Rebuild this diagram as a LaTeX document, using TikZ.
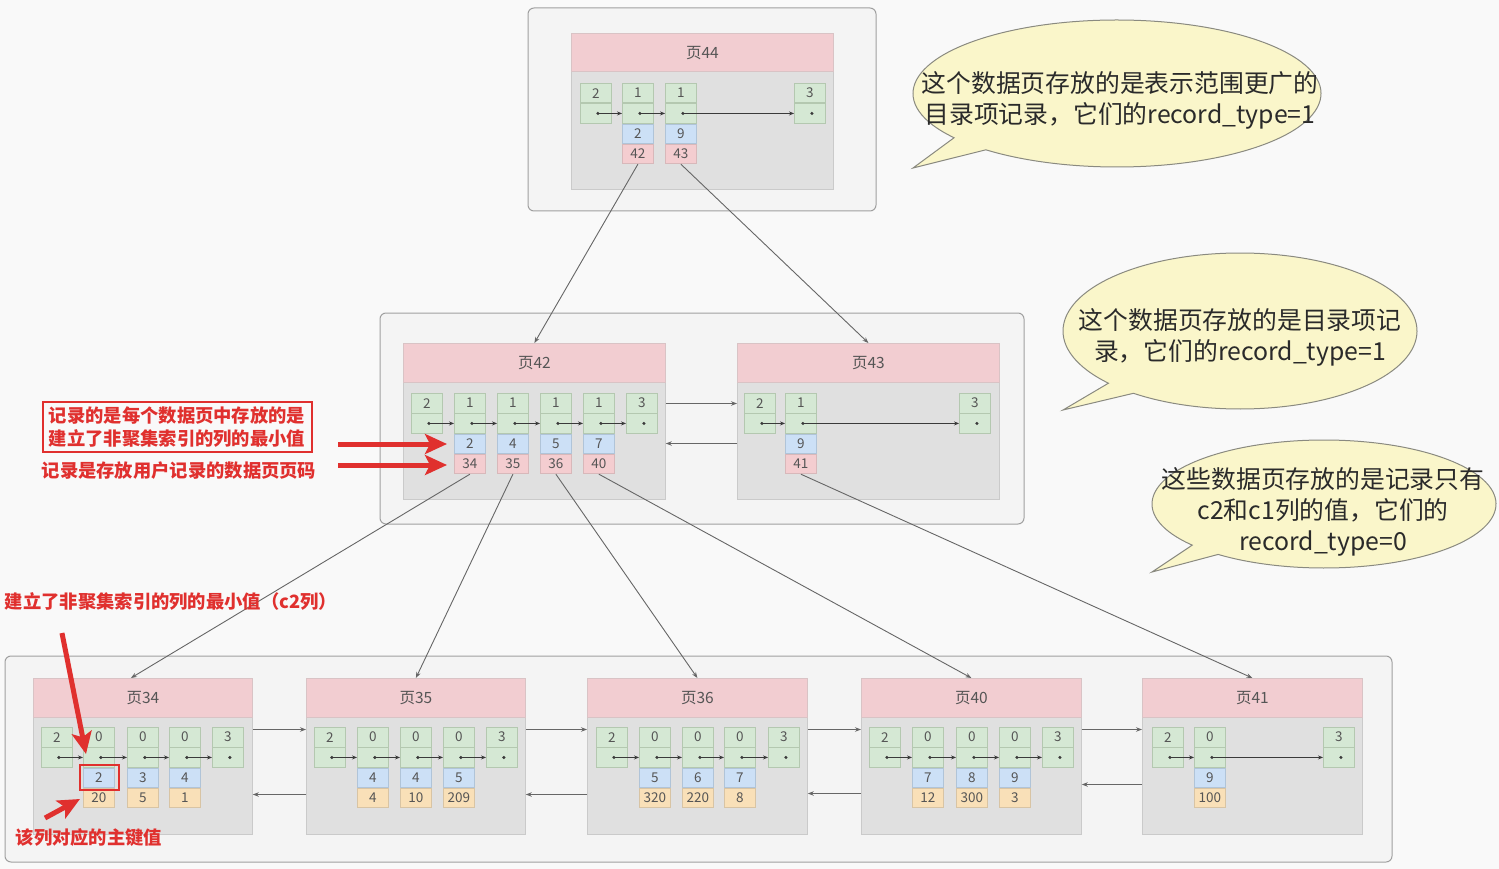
\documentclass[tikz,border=0pt]{standalone}
\usepackage{fontspec}
\setmainfont{Noto Sans CJK SC}
\usetikzlibrary{arrows.meta}
\definecolor{bg}{HTML}{F9F9F9}
\definecolor{grpfill}{HTML}{F4F4F4}
\definecolor{grpdraw}{HTML}{A0A0A0}
\definecolor{hdrfill}{HTML}{F2CDD1}
\definecolor{hdrdraw}{HTML}{D9C3C5}
\definecolor{bodyfill}{HTML}{E0E0E0}
\definecolor{bodydraw}{HTML}{CACACA}
\definecolor{gfill}{HTML}{D5E8D4}
\definecolor{gdraw}{HTML}{B4C8B0}
\definecolor{bfill}{HTML}{CCE0F6}
\definecolor{bdraw}{HTML}{B0C4D8}
\definecolor{pfill}{HTML}{F4CDD0}
\definecolor{pdraw}{HTML}{D8B8BA}
\definecolor{ofill}{HTML}{F9E0B8}
\definecolor{odraw}{HTML}{D8C4A4}
\definecolor{numc}{HTML}{555555}
\definecolor{linec}{HTML}{666666}
\definecolor{ptrc}{HTML}{3A3A3A}
\definecolor{redc}{HTML}{E0302E}
\definecolor{bubfill}{HTML}{FAF6CA}
\definecolor{bubdraw}{HTML}{8A8A80}
\definecolor{bubtext}{HTML}{2A2A2A}
\tikzset{
 cell/.style={rectangle, minimum width=31pt, minimum height=19.5pt, inner sep=0pt, line width=0.8pt, font=\fontsize{13.5}{13.5}\selectfont, text=numc},
 cg/.style={cell, fill=gfill, draw=gdraw},
 cb/.style={cell, fill=bfill, draw=bdraw},
 cp/.style={cell, fill=pfill, draw=pdraw},
 co/.style={cell, fill=ofill, draw=odraw},
 hdr/.style={rectangle, fill=hdrfill, draw=hdrdraw, line width=0.8pt, inner sep=0pt, anchor=north west, font=\fontsize{15.5}{15.5}\selectfont, text=numc},
 pbody/.style={rectangle, fill=bodyfill, draw=bodydraw, line width=0.8pt, inner sep=0pt, anchor=north west},
 grp/.style={fill=grpfill, draw=grpdraw, line width=1pt, rounded corners=6pt},
 ptr/.style={draw=ptrc, line width=0.9pt, -{Stealth[length=5pt,width=4pt]}},
 conn/.style={draw=linec, line width=0.9pt, -{Stealth[length=6pt,width=4.5pt]}},
 dotc/.style={fill=ptrc},
 redtxt/.style={text=redc, font=\bfseries\fontsize{18.3}{23}\selectfont, inner sep=0pt, align=center},
 redarrow/.style={draw=redc, line width=5pt, -{Stealth[length=22pt,width=20pt,inset=5pt]}},
 bubble/.style={fill=bubfill, draw=bubdraw, line width=1pt},
 bubtxt/.style={text=bubtext, font=\fontsize{24.8}{31}\selectfont, inner sep=0pt, align=center},
}
\newcommand\MyPage[6]{%
 \node[pbody, minimum width=#4pt, minimum height=#6pt] (#1b) at (#2,#3+38.5) {};
 \node[hdr, minimum width=#4pt, minimum height=38.5pt] (#1h) at (#2,#3) {#5};
}
\newcommand\MyRecA[4]{%
 \node[cg, anchor=north west] (#1t) at (#2,#3) {#4};
 \node[cg, anchor=north] (#1p) at (#1t.south) {};
 \fill[dotc] ([xshift=2pt]#1p.center) circle (1.7pt);
}
\newcommand\MyRecB[7]{%
 \MyRecA{#1}{#2}{#3}{#4}
 \node[cb, anchor=north] (#1m) at (#1p.south) {#5};
 \node[#7, anchor=north] (#1l) at (#1m.south) {#6};
}
\newcommand\MyPtr[2]{\draw[ptr] ([xshift=2pt]#1p.center) -- (#2p.west);}
\newcommand\MyBubble[8]{\filldraw[bubble] (#1,#2) ++(#6:#3 and #4) arc[start angle=#6, end angle=#5+360, x radius=#3, y radius=#4] -- (#7,#8) -- cycle;}
\begin{document}
\begin{tikzpicture}[x=1pt,y=-1pt]
\fill[bg] (0,0) rectangle (1499,869);
\useasboundingbox (0,0) rectangle (1499,869);
% group boxes
\draw[grp] (528,8) rectangle (876,211);
\draw[grp] (380,313) rectangle (1024,524);
\draw[grp] (5,656) rectangle (1392,862);
% pages
\MyPage{p44}{571}{33}{262}{页44}{118}
\MyPage{p42}{403}{343}{262}{页42}{117}
\MyPage{p43}{737}{343}{262}{页43}{117}
\MyPage{p34}{33}{678}{219}{页34}{117}
\MyPage{p35}{306}{678}{219}{页35}{117}
\MyPage{p36}{587}{678}{220}{页36}{117}
\MyPage{p40}{861}{678}{220}{页40}{117}
\MyPage{p41}{1142}{678}{220}{页41}{117}
% page 44
\MyRecA{a0}{580}{83}{2}
\MyRecB{a1}{622}{83}{1}{2}{42}{cp}
\MyRecB{a2}{665}{83}{1}{9}{43}{cp}
\MyRecA{a3}{794}{83}{3}
\MyPtr{a0}{a1}\MyPtr{a1}{a2}\MyPtr{a2}{a3}
% page 42
\MyRecA{b0}{411}{393}{2}
\MyRecB{b1}{454}{393}{1}{2}{34}{cp}
\MyRecB{b2}{497}{393}{1}{4}{35}{cp}
\MyRecB{b3}{540}{393}{1}{5}{36}{cp}
\MyRecB{b4}{583}{393}{1}{7}{40}{cp}
\MyRecA{b5}{626}{393}{3}
\MyPtr{b0}{b1}\MyPtr{b1}{b2}\MyPtr{b2}{b3}\MyPtr{b3}{b4}\MyPtr{b4}{b5}
% page 43
\MyRecA{c0}{744}{393}{2}
\MyRecB{c1}{785}{393}{1}{9}{41}{cp}
\MyRecA{c2}{959}{393}{3}
\MyPtr{c0}{c1}\MyPtr{c1}{c2}
% page 34
\MyRecA{d0}{41}{727}{2}
\MyRecB{d1}{83}{727}{0}{2}{20}{co}
\MyRecB{d2}{127}{727}{0}{3}{5}{co}
\MyRecB{d3}{169}{727}{0}{4}{1}{co}
\MyRecA{d4}{212}{727}{3}
\MyPtr{d0}{d1}\MyPtr{d1}{d2}\MyPtr{d2}{d3}\MyPtr{d3}{d4}
% page 35
\MyRecA{e0}{314}{727}{2}
\MyRecB{e1}{357}{727}{0}{4}{4}{co}
\MyRecB{e2}{400}{727}{0}{4}{10}{co}
\MyRecB{e3}{443}{727}{0}{5}{209}{co}
\MyRecA{e4}{486}{727}{3}
\MyPtr{e0}{e1}\MyPtr{e1}{e2}\MyPtr{e2}{e3}\MyPtr{e3}{e4}
% page 36
\MyRecA{f0}{596}{727}{2}
\MyRecB{f1}{639}{727}{0}{5}{320}{co}
\MyRecB{f2}{682}{727}{0}{6}{220}{co}
\MyRecB{f3}{724}{727}{0}{7}{8}{co}
\MyRecA{f4}{768}{727}{3}
\MyPtr{f0}{f1}\MyPtr{f1}{f2}\MyPtr{f2}{f3}\MyPtr{f3}{f4}
% page 40
\MyRecA{g0}{869}{727}{2}
\MyRecB{g1}{912}{727}{0}{7}{12}{co}
\MyRecB{g2}{956}{727}{0}{8}{300}{co}
\MyRecB{g3}{999}{727}{0}{9}{3}{co}
\MyRecA{g4}{1042}{727}{3}
\MyPtr{g0}{g1}\MyPtr{g1}{g2}\MyPtr{g2}{g3}\MyPtr{g3}{g4}
% page 41
\MyRecA{h0}{1152}{727}{2}
\MyRecB{h1}{1194}{727}{0}{9}{100}{co}
\MyRecA{h2}{1323}{727}{3}
\MyPtr{h0}{h1}\MyPtr{h1}{h2}
% tree connectors
\draw[conn] (a1l.south) -- (p42h.north);
\draw[conn] (a2l.south) -- (p43h.north);
\draw[conn] (b1l.south) -- ([xshift=-12pt]p34h.north);
\draw[conn] (b2l.south) -- (p35h.north);
\draw[conn] (b3l.south) -- (p36h.north);
\draw[conn] (b4l.south) -- (p40h.north);
\draw[conn] (c1l.south) -- (p41h.north);
% sibling links
\draw[conn] ([shift={(0,22)}]p42b.north east) -- ([shift={(0,22)}]p43b.north west);
\draw[conn] ([shift={(0,62)}]p43b.north west) -- ([shift={(0,62)}]p42b.north east);
\draw[conn] ([shift={(0,13)}]p34b.north east) -- ([shift={(0,13)}]p35b.north west);
\draw[conn] ([shift={(0,78)}]p35b.north west) -- ([shift={(0,78)}]p34b.north east);
\draw[conn] ([shift={(0,13)}]p35b.north east) -- ([shift={(0,13)}]p36b.north west);
\draw[conn] ([shift={(0,78)}]p36b.north west) -- ([shift={(0,78)}]p35b.north east);
\draw[conn] ([shift={(0,13)}]p36b.north east) -- ([shift={(0,13)}]p40b.north west);
\draw[conn] ([shift={(0,77)}]p40b.north west) -- ([shift={(0,77)}]p36b.north east);
\draw[conn] ([shift={(0,13)}]p40b.north east) -- ([shift={(0,13)}]p41b.north west);
\draw[conn] ([shift={(0,68)}]p41b.north west) -- ([shift={(0,68)}]p40b.north east);
% bubbles
\MyBubble{1117}{93.5}{204}{73.5}{130}{143}{913}{168}
\node[bubtxt] (bt1) at (1120,100) {这个数据页存放的是表示范围更广的\\目录项记录，它们的record\_type=1};
\MyBubble{1240}{331}{177}{78}{127}{138}{1063}{410}
\node[bubtxt] (bt2) at (1240,337) {这个数据页存放的是目录项记\\录，它们的record\_type=1};
\MyBubble{1324}{504}{172}{64}{128}{140}{1152}{572}
\node[bubtxt] (bt3) at (1323,512) {这些数据页存放的是记录只有\\c2和c1列的值，它们的\\record\_type=0};
% red annotations
\node[redtxt, draw=redc, line width=2pt, minimum width=269pt, minimum height=50pt] (rn1) at (177,427) {记录的是每个数据页中存放的是\\建立了非聚集索引的列的最小值};
\node[redtxt] (rn2) at (179,471) {记录是存放用户记录的数据页页码};
\node[redtxt] (rn3) at (171,601) {建立了非聚集索引的列的最小值（c2列）};
\node[redtxt] (rn4) at (89,838) {该列对应的主键值};
\coordinate (ra1s) at (338,444);
\coordinate (ra1e) at (447,444);
\coordinate (ra2s) at (338,465);
\coordinate (ra2e) at (447,465);
\coordinate (ra3s) at (62,633);
\coordinate (ra3e) at (86,754);
\coordinate (ra4s) at (45,818);
\coordinate (ra4e) at (80,799);
\draw[redarrow] (ra1s) -- (ra1e);
\draw[redarrow] (ra2s) -- (ra2e);
\draw[redarrow] (ra3s) -- (ra3e);
\draw[redarrow] (ra4s) -- (ra4e);
\draw[redc, line width=2pt] ([shift={(-3,-3)}]d1m.north west) rectangle ([shift={(4,2)}]d1m.south east);
\end{tikzpicture}
\end{document}
